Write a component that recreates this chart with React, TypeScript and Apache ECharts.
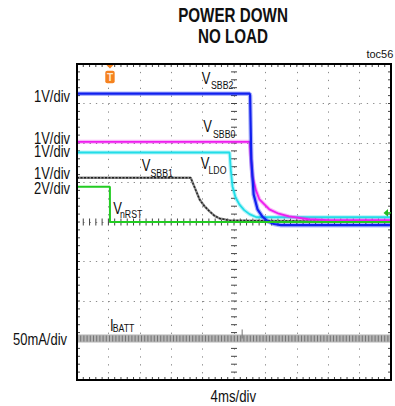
import React, { useEffect, useRef } from "react";
import * as echarts from "echarts";

// time in ms relative to screen centre (4ms/div, 10 div), amplitude in divisions
const X_MIN = -20;
const X_MAX = 20;
const X_STEP = 4;
const Y_MIN = -4;
const Y_MAX = 4;
const Y_STEP = 1;
const MINOR = 5;

const VSBB2 = [[-20, 3.25], [2.0, 3.25], [2.05, 3.2], [2.2, 1.6], [2.5, 0.7], [3.0, 0.32], [3.6, 0.14], [4.3, 0.02], [5.1, -0.05], [6.0, -0.08], [20, -0.08]];
const VSBB0 = [[-20, 2.03], [2.0, 2.03], [2.1, 1.75], [2.35, 1.15], [2.8, 0.8], [3.24, 0.57], [4.5, 0.32], [5.7, 0.21], [7.0, 0.14], [9.5, 0.07], [12, 0.045], [20, 0.045]];
const VLDO = [[-20, 1.76], [-0.57, 1.76], [-0.4, 1.3], [-0.19, 0.9], [0.2, 0.62], [0.7, 0.44], [1.3, 0.3], [1.97, 0.2], [2.86, 0.12], [20, 0.12]];
const VSBB1 = [[-20, 1.12], [-5.52, 1.12], [-5.0, 0.87], [-4.38, 0.57], [-3.8, 0.41], [-3.11, 0.27], [-2.5, 0.16], [-1.84, 0.09], [-0.57, 0.04], [20, 0.0]];
const VNRST = [[-20, 0.89], [-15.81, 0.89], [-15.8, 0.0], [20, 0.0]];
const IBATT = [[-20, -2.95], [20, -2.95]];
const IBATT_SPIKE = [[1.04, -2.95], [1.04, -2.72]];

const TRIGGER_MS = -15.8;
const GROUND_LEVEL = 0.23;

const TITLE = ["POWER DOWN", "NO LOAD"];
const SCALE_LABELS = ["1V/div", "1V/div", "1V/div", "1V/div", "2V/div", "50mA/div"];
const TRACE_NAMES = [["V", "SBB2"], ["V", "SBB0"], ["V", "LDO"], ["V", "SBB1"], ["V", "nRST"], ["I", "BATT"]];

const FONT = "'Liberation Sans', Arial, sans-serif";

function txt(text: string, x: number, y: number, size: number, opts: any = {}) {
  const align = opts.align || "left";
  return {
    type: "text",
    x,
    y,
    scaleX: opts.s ?? 0.81,
    silent: true,
    z: 50,
    style: {
      text,
      fontSize: size,
      fontFamily: FONT,
      fontWeight: opts.bold ? "bold" : "normal",
      fill: opts.fill || "#111",
      align,
      textAlign: align,
      verticalAlign: "middle",
      textVerticalAlign: "middle",
    },
  };
}

function trace(name: string, data: number[][], color: string, width: number, z: number, extra: any = {}) {
  return {
    name,
    type: "line",
    data,
    symbol: "none",
    showSymbol: false,
    silent: true,
    z,
    lineStyle: { color, width, ...extra },
    itemStyle: { color },
  };
}

export default function App() {
  const ref = useRef<HTMLDivElement>(null);
  useEffect(() => {
    if (!ref.current) return;
    const chart = echarts.init(ref.current, undefined, { renderer: "svg" });
    chart.setOption({
      animation: false,
      backgroundColor: "#fff",
      grid: { left: 77, top: 64, right: 4, bottom: 26, containLabel: false, show: true, borderColor: "#000", borderWidth: 2, z: 20 },
      xAxis: {
        type: "value",
        min: X_MIN,
        max: X_MAX,
        interval: X_STEP,
        axisLine: { show: false, onZero: false },
        axisTick: { show: false },
        axisLabel: { show: false },
        splitLine: { show: true, lineStyle: { color: "#8c8c8c", width: 1, type: [1.3, 6.6] } },
      },
      yAxis: {
        type: "value",
        min: Y_MIN,
        max: Y_MAX,
        interval: Y_STEP,
        axisLine: { show: false, onZero: false },
        axisTick: { show: false },
        axisLabel: { show: false },
        splitLine: { show: true, lineStyle: { color: "#8c8c8c", width: 1, type: [1.3, 5.0] } },
      },
      series: [
        trace("IBATT", IBATT, "#b4b4b4", 8, 2),
        trace("IBATT texture", IBATT, "#737373", 6, 2, { type: [1, 2.2] }),
        trace("IBATT spike", IBATT_SPIKE, "#777", 1, 2),
        trace("VSBB1", VSBB1, "#8a8a8a", 2.4, 3),
        trace("VSBB1 texture", VSBB1, "#222", 1.4, 3, { type: [2, 1.5] }),
        trace("VLDO halo", VLDO, "rgba(46,224,234,0.35)", 4, 4),
        trace("VLDO", VLDO, "#22dde8", 1.8, 4),
        trace("VSBB0 halo", VSBB0, "rgba(238,42,238,0.35)", 4, 5),
        trace("VSBB0", VSBB0, "#ee1eee", 1.8, 5),
        trace("VSBB2 halo", VSBB2, "rgba(20,40,240,0.35)", 4.5, 6),
        trace("VSBB2", VSBB2, "#1020ee", 2.2, 6),
        trace("VnRST", VNRST, "#22cc22", 2, 7),
      ],
    });

    const px = (x: number, y: number) => chart.convertToPixel({ xAxisIndex: 0, yAxisIndex: 0 }, [x, y]) as number[];
    const [tx, ty] = px(TRIGGER_MS, Y_MAX);
    const [gx, gy] = px(X_MAX, GROUND_LEVEL);
    const [left, top] = px(X_MIN, Y_MAX);
    const [right, bottom] = px(X_MAX, Y_MIN);
    const [cx, cy] = px(0, 0);

    const ticks: any[] = [];
    const tickLine = (x1: number, y1: number, x2: number, y2: number) =>
      ticks.push({ type: "line", silent: true, shape: { x1, y1, x2, y2 }, style: { stroke: "#444", lineWidth: 1 } });
    const nx = ((X_MAX - X_MIN) / X_STEP) * MINOR;
    for (let k = 0; k <= nx; k++) {
      const x = px(X_MIN + (k * X_STEP) / MINOR, 0)[0];
      tickLine(x, top, x, top + 3);
      tickLine(x, bottom - 3, x, bottom);
      tickLine(x, cy - 3.5, x, cy + 3.5);
    }
    const ny = ((Y_MAX - Y_MIN) / Y_STEP) * MINOR;
    for (let k = 0; k <= ny; k++) {
      const y = px(0, Y_MIN + (k * Y_STEP) / MINOR)[1];
      tickLine(left, y, left + 3, y);
      tickLine(right - 3, y, right, y);
      tickLine(cx - 3, y, cx + 3, y);
    }

    const scaleY = [96.3, 139, 151.5, 174, 188.5, 340];
    const scaleR = [70, 70, 70, 70, 70, 67];
    const namePos = [
      [201.7, 79, 211, 85],
      [203.3, 127, 213, 134],
      [200.7, 164, 208.5, 170],
      [141.7, 166, 150.5, 172.7],
      [113.3, 209, 120, 214.2],
      [110, 325.5, 112.7, 328.5],
    ];

    const graphic: any[] = [
      { type: "group", silent: true, z: 30, children: ticks },
      txt(TITLE[0], 233, 15.5, 19.5, { bold: true, align: "center", s: 0.78 }),
      txt(TITLE[1], 233, 36.7, 19.5, { bold: true, align: "center", s: 0.78 }),
      txt("toc56", 393.3, 53.7, 11, { align: "right", s: 1 }),
      txt("4ms/div", 233.3, 395.5, 16.5, { align: "center", s: 0.8 }),
    ];
    SCALE_LABELS.forEach((t, i) => graphic.push(txt(t, scaleR[i], scaleY[i], 16, { align: "right", s: 0.81 })));
    TRACE_NAMES.forEach((n, i) => {
      const p = namePos[i];
      graphic.push(txt(n[0], p[0], p[1], 16, { s: 0.81 }));
      graphic.push(txt(n[1], p[2], p[3], 11.5, { s: 0.76 }));
    });
    // trigger marker
    graphic.push({
      type: "polygon",
      silent: true,
      z: 60,
      shape: { points: [[tx - 3.5, ty + 1], [tx + 3.5, ty + 1], [tx, ty + 4.5]] },
      style: { fill: "#f5821f" },
    });
    graphic.push({
      type: "rect",
      silent: true,
      z: 60,
      shape: { x: tx - 4.7, y: ty + 6.7, width: 9.4, height: 12.6, r: 2 },
      style: { fill: "#f5821f" },
    });
    graphic.push({
      type: "text",
      silent: true,
      z: 61,
      x: tx,
      y: ty + 13.2,
      style: { text: "T", fontSize: 10, fontWeight: "bold", fontFamily: FONT, fill: "#ffe8d0", align: "center", textAlign: "center", verticalAlign: "middle", textVerticalAlign: "middle" },
    });
    // ground marker
    graphic.push({
      type: "polygon",
      silent: true,
      z: 60,
      shape: { points: [[gx - 7.5, gy], [gx - 3, gy - 3.8], [gx - 3, gy + 3.8]] },
      style: { fill: "#22bb22" },
    });
    graphic.push({
      type: "line",
      silent: true,
      z: 60,
      shape: { x1: gx - 3.5, y1: gy, x2: gx, y2: gy },
      style: { stroke: "#22bb22", lineWidth: 1.5 },
    });
    chart.setOption({ graphic });

    return () => chart.dispose();
  }, []);
  return <div ref={ref} style={{ position: "fixed", left: 0, top: 0, width: 395, height: 406 }} />;
}
